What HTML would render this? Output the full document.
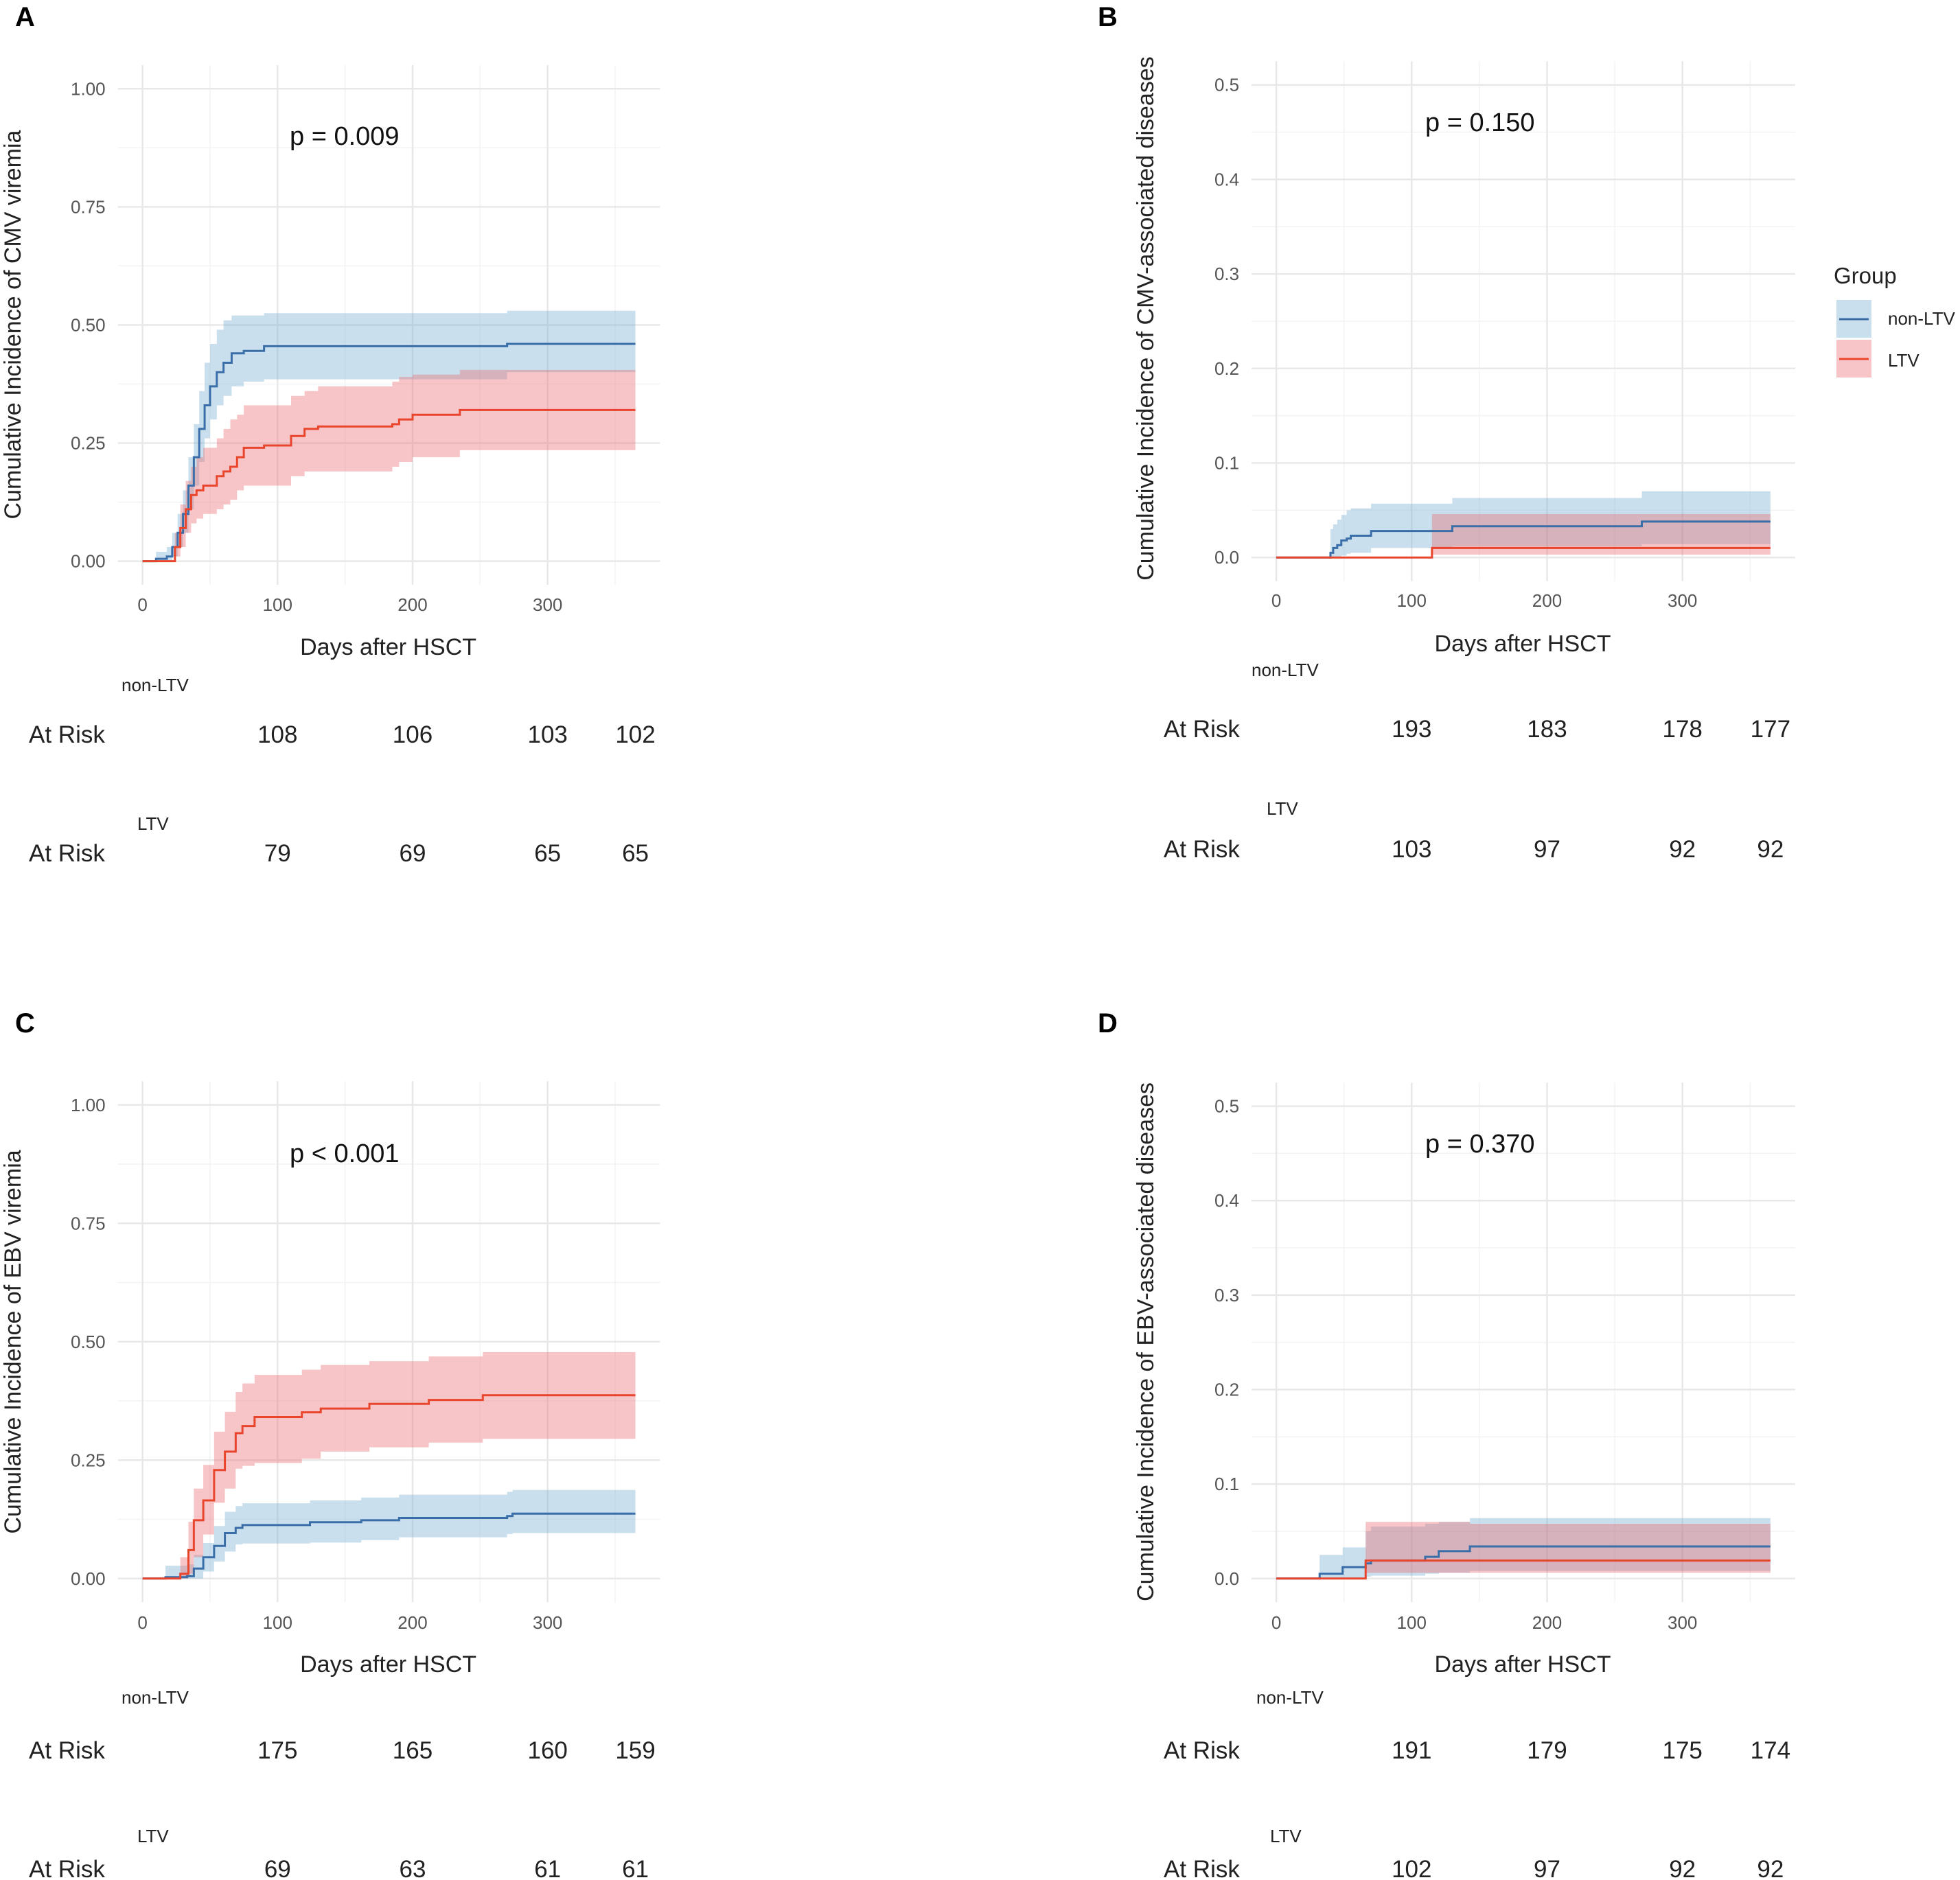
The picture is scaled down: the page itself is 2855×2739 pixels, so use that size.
<!DOCTYPE html>
<html><head><meta charset="utf-8"><style>
html,body{margin:0;padding:0;background:#fff}
svg{display:block}
text{font-family:"Liberation Sans",Arial,sans-serif}
</style></head><body>
<svg id="fig" width="2855" height="2739" viewBox="0 0 2855 2739" xmlns="http://www.w3.org/2000/svg">
<rect width="2855" height="2739" fill="#fff"/>
<g font-weight="bold" font-size="40" fill="#000">
<text x="22" y="38">A</text>
<text x="1599" y="38">B</text>
<text x="22" y="1504">C</text>
<text x="1599" y="1504">D</text>
</g>
<g>
<text x="2671" y="413" font-size="33" fill="#222">Group</text>
<rect x="2675" y="437" width="51" height="55" fill="rgba(120,175,210,0.4)"/>
<line x1="2679" x2="2722" y1="465" y2="465" stroke="#3a6ea8" stroke-width="3"/>
<rect x="2675" y="495" width="51" height="55" fill="rgba(236,110,115,0.4)"/>
<line x1="2679" x2="2722" y1="523" y2="523" stroke="#e8452c" stroke-width="3"/>
<text x="2750" y="473" font-size="26" fill="#222">non-LTV</text>
<text x="2750" y="534" font-size="26" fill="#222">LTV</text>
</g>
</svg>
<script>
// ---------- Data ----------
const aNonT=[0,10,18,22,26,30,34,38,42,46,50,55,60,66,75,90,270,365];
const aNonE=[0,0.005,0.01,0.03,0.06,0.10,0.16,0.22,0.28,0.33,0.37,0.40,0.42,0.44,0.445,0.455,0.46,0.46];
const aNonU=[0,0.02,0.03,0.06,0.10,0.15,0.22,0.29,0.36,0.42,0.46,0.49,0.51,0.52,0.52,0.525,0.53,0.53];
const aNonL=[0,0,0,0.01,0.03,0.06,0.11,0.16,0.21,0.26,0.30,0.33,0.35,0.37,0.38,0.385,0.40,0.40];
const aLtvT=[0,20,24,28,32,36,40,45,55,60,65,70,75,90,110,120,130,185,190,200,235,365];
const aLtvE=[0,0,0.03,0.07,0.11,0.14,0.15,0.16,0.18,0.19,0.20,0.22,0.24,0.245,0.265,0.28,0.285,0.29,0.30,0.31,0.32,0.32];
const aLtvU=[0,0,0.06,0.12,0.17,0.20,0.22,0.24,0.26,0.28,0.30,0.31,0.33,0.33,0.35,0.36,0.37,0.38,0.39,0.395,0.405,0.405];
const aLtvL=[0,0,0.01,0.03,0.06,0.08,0.09,0.10,0.11,0.12,0.13,0.15,0.16,0.16,0.18,0.19,0.19,0.20,0.21,0.22,0.235,0.235];
const bNonT=[0,40,42,45,48,52,55,70,130,270,365];
const bNonE=[0,0.005,0.01,0.013,0.018,0.02,0.023,0.028,0.033,0.038,0.038];
const bNonU=[0,0.03,0.035,0.04,0.045,0.05,0.052,0.057,0.063,0.07,0.07];
const bNonL=[0,0,0,0,0.002,0.004,0.005,0.01,0.012,0.014,0.014];
const bLtvT=[0,115,365];
const bLtvE=[0,0.01,0.01];
const bLtvU=[0,0.046,0.046];
const bLtvL=[0,0.003,0.003];
const cNonT=[0,17,30,33,38,45,53,61,69,74,124,162,190,270,274,365];
const cNonE=[0,0.003,0.003,0.005,0.021,0.045,0.069,0.096,0.107,0.113,0.119,0.123,0.128,0.132,0.137,0.137];
const cNonU=[0,0.027,0.027,0.03,0.05,0.075,0.111,0.141,0.153,0.159,0.165,0.171,0.177,0.183,0.187,0.187];
const cNonL=[0,0,0,0,0,0.015,0.036,0.057,0.072,0.074,0.076,0.081,0.087,0.094,0.096,0.096];
const cLtvT=[0,28,34,38,45,53,61,69,74,83,118,132,168,212,252,365];
const cLtvE=[0,0.01,0.06,0.123,0.165,0.229,0.268,0.307,0.322,0.341,0.351,0.359,0.369,0.377,0.387,0.387];
const cLtvU=[0,0.045,0.12,0.19,0.24,0.31,0.352,0.394,0.412,0.43,0.441,0.451,0.459,0.469,0.478,0.478];
const cLtvL=[0,0,0.01,0.045,0.093,0.16,0.19,0.232,0.238,0.244,0.253,0.268,0.277,0.287,0.295,0.295];
const dNonT=[0,32,49,66,70,110,120,143,365];
const dNonE=[0,0.005,0.012,0.016,0.019,0.023,0.029,0.034,0.034];
const dNonU=[0,0.025,0.033,0.05,0.055,0.058,0.06,0.064,0.064];
const dNonL=[0,0,0,0.002,0.003,0.005,0.006,0.008,0.008];
const dLtvT=[0,66,143,365];
const dLtvE=[0,0.019,0.019,0.019];
const dLtvU=[0,0.06,0.058,0.058];
const dLtvL=[0,0.006,0.006,0.006];
const xTicks=[0,100,200,300];
const yTicksA=[0,0.25,0.5,0.75,1.0];
const yTickLabelsA=["0.00","0.25","0.50","0.75","1.00"];
const yTicksB=[0,0.1,0.2,0.3,0.4,0.5];
const yTickLabelsB=["0.0","0.1","0.2","0.3","0.4","0.5"];
const riskTimes=[100,200,300,365];
const riskA_non=[108,106,103,102], riskA_ltv=[79,69,65,65];
const riskB_non=[193,183,178,177], riskB_ltv=[103,97,92,92];
const riskC_non=[175,165,160,159], riskC_ltv=[69,63,61,61];
const riskD_non=[191,179,175,174], riskD_ltv=[102,97,92,92];

const NS="http://www.w3.org/2000/svg";
const svg=document.getElementById('fig');
function el(tag,attrs,parent){const e=document.createElementNS(NS,tag);for(const k in attrs)e.setAttribute(k,attrs[k]);(parent||svg).appendChild(e);return e;}

function drawPanel(p){
  const g=el('g',{});
  
  
  const X=t=>p.x0+t*p.xs;
  const Y=v=>p.y0-v*p.ys;
  const xl=X(-18.25),xr=X(383.25),yt=Y(p.ymax*1.05),yb=Y(-p.ymax*0.05);
  const grid=el('g',{},g);
  
  
  for(let t=50;t<=350;t+=100) el('line',{x1:X(t),x2:X(t),y1:yt,y2:yb,stroke:'#f3f3f3','stroke-width':1.5},grid);
  for(let i=0;i<p.yticks.length-1;i++){const v=(p.yticks[i]+p.yticks[i+1])/2;el('line',{x1:xl,x2:xr,y1:Y(v),y2:Y(v),stroke:'#f3f3f3','stroke-width':1.5},grid);}
  xTicks.forEach(t=>el('line',{x1:X(t),x2:X(t),y1:yt,y2:yb,stroke:'#e8e8e8','stroke-width':2.5},grid));
  p.yticks.forEach(v=>el('line',{x1:xl,x2:xr,y1:Y(v),y2:Y(v),stroke:'#e8e8e8','stroke-width':2.5},grid));
  p.yticks.forEach((v,i)=>{const t=el('text',{x:p.x0-54,y:Y(v)+9,'text-anchor':'end','font-size':26,fill:'#555'},g);
    t.textContent=p.ylabels[i];});
  xTicks.forEach(v=>{const t=el('text',{x:X(v),y:p.xtickY,'text-anchor':'middle','font-size':26,fill:'#555'},g);
    t.textContent=v;});
  p.series.forEach(s=>{
    let up='';
    for(let i=0;i<s.t.length;i++){
      const x=X(s.t[i]);
      if(i===0) up+=`M${x},${Y(s.u[i])}`; else up+=`L${x},${Y(s.u[i-1])}L${x},${Y(s.u[i])}`;
    }
    for(let i=s.t.length-1;i>=0;i--){
      const x=X(s.t[i]);
      up+=`L${x},${Y(s.l[i])}`;
      if(i>0) up+=`L${x},${Y(s.l[i-1])}`;
    }
    const rib=el('path',{d:up+'Z',fill:s.fill},g);
    
    
  });
  p.series.forEach(s=>{
    let d='';
    for(let i=0;i<s.t.length;i++){
      const x=X(s.t[i]);
      if(i===0) d+=`M${x},${Y(s.e[i])}`; else d+=`L${x},${Y(s.e[i-1])}L${x},${Y(s.e[i])}`;
    }
    const ln=el('path',{d:d,fill:'none',stroke:s.color,'stroke-width':3},g);
    
    
  });
  const yt2=el('text',{x:0,y:0,'font-size':p.ytitleSize,fill:'#222','text-anchor':'middle',transform:`translate(${p.ytitleX},${p.ytitleY}) rotate(-90)`},g);
  yt2.textContent=p.ytitle;
  const xt=el('text',{x:X(182),y:p.xtitleY,'font-size':34,fill:'#222','text-anchor':'middle'},g);
  xt.textContent='Days after HSCT';
  const pv=el('text',{x:p.pX,y:p.pY,'font-size':38,fill:'#111'},g);
  pv.textContent=p.ptext;
  const rows=[{lab:'non-LTV',lx:p.nonLabX,ly:p.rowY[0],ry:p.rowY[1],vals:p.riskNon,k:'non-ltv'},{lab:'LTV',lx:p.ltvLabX,ly:p.rowY[2],ry:p.rowY[3],vals:p.riskLtv,k:'ltv'}];
  rows.forEach(r=>{
    const a=el('text',{x:r.lx,y:r.ly,'font-size':26,fill:'#222'},g);
    a.textContent=r.lab;
    const b=el('text',{x:p.atRiskX,y:r.ry,'font-size':35,fill:'#222'},g);
    b.textContent='At Risk';
    r.vals.forEach((v,i)=>{const n=el('text',{x:X(riskTimes[i]),y:r.ry,'font-size':35,fill:'#222','text-anchor':'middle'},g);
      n.textContent=v;});
  });
}
const BF='rgba(120,175,210,0.4)',RF='rgba(236,110,115,0.4)',BC='#3a6ea8',RC='#e8452c';
drawPanel({name:'panel-a-cmv-viremia',x0:207.6,xs:1.967,y0:817.6,ys:688.3,ymax:1,yticks:yTicksA,ylabels:yTickLabelsA,xtickY:890,
  ytitle:'Cumulative Incidence of CMV viremia',ytitleX:30,ytitleY:473,ytitleSize:34,xtitleY:954,pX:422,pY:211,ptext:'p = 0.009',
  nonLabX:177,ltvLabX:200,rowY:[1007,1082,1209,1255],atRiskX:42,riskNon:riskA_non,riskLtv:riskA_ltv,
  series:[{key:'non-ltv',t:aNonT,e:aNonE,u:aNonU,l:aNonL,fill:BF,color:BC},{key:'ltv',t:aLtvT,e:aLtvE,u:aLtvU,l:aLtvL,fill:RF,color:RC}]});
drawPanel({name:'panel-b-cmv-disease',x0:1859.1,xs:1.972,y0:812.2,ys:1377,ymax:0.5,yticks:yTicksB,ylabels:yTickLabelsB,xtickY:884,
  ytitle:'Cumulative Incidence of CMV-associated diseases',ytitleX:1680,ytitleY:464,ytitleSize:34,xtitleY:949,pX:2076,pY:191,ptext:'p = 0.150',
  nonLabX:1823,ltvLabX:1845,rowY:[985,1074,1187,1249],atRiskX:1695,riskNon:riskB_non,riskLtv:riskB_ltv,
  series:[{key:'non-ltv',t:bNonT,e:bNonE,u:bNonU,l:bNonL,fill:BF,color:BC},{key:'ltv',t:bLtvT,e:bLtvE,u:bLtvU,l:bLtvL,fill:RF,color:RC}]});
drawPanel({name:'panel-c-ebv-viremia',x0:207.6,xs:1.967,y0:2299.8,ys:690,ymax:1,yticks:yTicksA,ylabels:yTickLabelsA,xtickY:2373,
  ytitle:'Cumulative Incidence of EBV viremia',ytitleX:30,ytitleY:1955,ytitleSize:34,xtitleY:2436,pX:422,pY:1693,ptext:'p < 0.001',
  nonLabX:177,ltvLabX:200,rowY:[2482,2562,2684,2735],atRiskX:42,riskNon:riskC_non,riskLtv:riskC_ltv,
  series:[{key:'non-ltv',t:cNonT,e:cNonE,u:cNonU,l:cNonL,fill:BF,color:BC},{key:'ltv',t:cLtvT,e:cLtvE,u:cLtvU,l:cLtvL,fill:RF,color:RC}]});
drawPanel({name:'panel-d-ebv-disease',x0:1859.1,xs:1.972,y0:2299.8,ys:1376.4,ymax:0.5,yticks:yTicksB,ylabels:yTickLabelsB,xtickY:2373,
  ytitle:'Cumulative Incidence of EBV-associated diseases',ytitleX:1680,ytitleY:1955,ytitleSize:34,xtitleY:2436,pX:2076,pY:1679,ptext:'p = 0.370',
  nonLabX:1830,ltvLabX:1850,rowY:[2482,2562,2684,2735],atRiskX:1695,riskNon:riskD_non,riskLtv:riskD_ltv,
  series:[{key:'non-ltv',t:dNonT,e:dNonE,u:dNonU,l:dNonL,fill:BF,color:BC},{key:'ltv',t:dLtvT,e:dLtvE,u:dLtvU,l:dLtvL,fill:RF,color:RC}]});
</script>
</body></html>
